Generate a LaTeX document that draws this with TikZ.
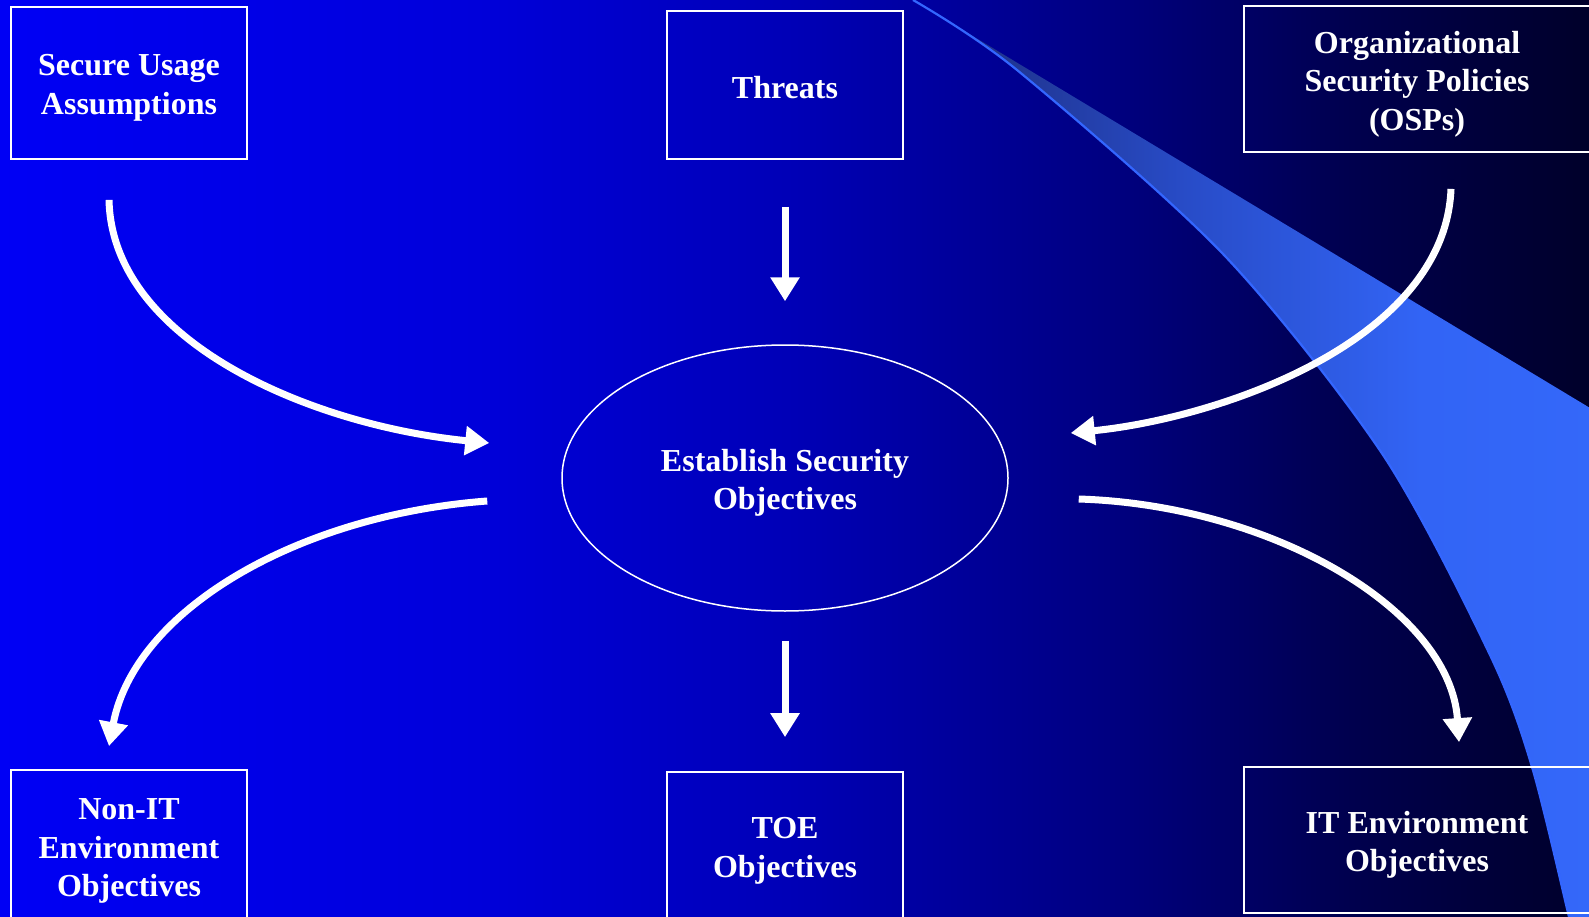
\documentclass[tikz,border=0pt]{standalone}
\usepackage{fontspec}
\setmainfont{Liberation Serif}
\usetikzlibrary{arrows.meta,shapes.geometric,calc}
\definecolor{bgA}{RGB}{0,0,245}
\definecolor{bgB}{RGB}{0,0,218}
\definecolor{bgC}{RGB}{0,0,182}
\definecolor{bgD}{RGB}{0,0,128}
\definecolor{bgE}{RGB}{0,0,78}
\definecolor{bgF}{RGB}{0,0,42}
\definecolor{swA}{RGB}{28,42,120}
\definecolor{swB}{RGB}{40,76,200}
\definecolor{swC}{RGB}{50,100,245}
\definecolor{swD}{RGB}{52,104,250}
\definecolor{swEdge}{RGB}{51,102,255}
\pgfdeclarehorizontalshading{bgshade}{100bp}{color(0bp)=(bgA); color(25bp)=(bgA); color(40bp)=(bgB); color(50bp)=(bgC); color(60bp)=(bgD); color(67.5bp)=(bgE); color(75bp)=(bgF); color(100bp)=(bgF)}
\pgfdeclarehorizontalshading{swshade}{100bp}{color(0bp)=(swA); color(25bp)=(swA); color(45bp)=(swB); color(62bp)=(swC); color(75bp)=(swD); color(100bp)=(swD)}
\tikzset{
  boxst/.style={draw=white, line width=1.8pt, inner sep=0pt},
  txtst/.style={text=white, align=center, inner sep=0pt,
    font=\bfseries\fontsize{32}{38.5}\selectfont},
  ellst/.style={ellipse, draw=white, line width=1.5pt, inner sep=0pt,
    minimum width=446pt, minimum height=266pt},
  arr/.style={draw=white, line width=7pt, -{Triangle[length=24pt,width=28pt]}},
  swedge/.style={draw=swEdge, line width=2.2pt}
}
\begin{document}
\begin{tikzpicture}[x=1pt,y=-1pt]
\useasboundingbox (0,0) rectangle (1589,917);
\clip (0,0) rectangle (1589,917);
% background
\shade[shading=bgshade] (0,0) rectangle (1589,917);
% swoosh
\shade[shading=swshade] plot[smooth] coordinates {(913,0) (1017,70) (1224,255) (1383,455) (1490,655) (1532,767) (1569,917) (1572,930)} -- (1600,930) -- (1600,414) -- cycle;
\draw[swedge] plot[smooth] coordinates {(913,0) (1017,70) (1224,255) (1383,455) (1490,655) (1532,767) (1569,917) (1572,930)};
% nodes
\node[boxst, minimum width=236pt, minimum height=152pt,
  label={[txtst, yshift=-5pt]center:{Secure Usage\\Assumptions}}] (sua) at (129,83) {};
\node[boxst, minimum width=236pt, minimum height=148pt,
  label={[txtst, yshift=-3pt]center:{Threats}}] (thr) at (785,85) {};
\node[boxst, minimum width=346pt, minimum height=146pt,
  label={[txtst, yshift=-5pt]center:{Organizational\\Security Policies\\(OSPs)}}] (osp) at (1417,79) {};
\node[ellst, label={[txtst, yshift=-5pt]center:{Establish Security\\Objectives}}] (est) at (785,478) {};
\node[boxst, minimum width=236pt, minimum height=152pt,
  label={[txtst, yshift=-5pt]center:{Non-IT\\Environment\\Objectives}}] (nit) at (129,846) {};
\node[boxst, minimum width=236pt, minimum height=148pt,
  label={[txtst, yshift=-5pt]center:{TOE\\Objectives}}] (toe) at (785,846) {};
\node[boxst, minimum width=346pt, minimum height=146pt,
  label={[txtst, yshift=-5pt]center:{IT Environment\\Objectives}}] (ite) at (1417,840) {};
% connectors
\draw[arr] ($(thr.south)+(0,47)$) -- ($(est.north)+(0,-43)$);
\draw[arr] ($(est.south)+(0,29)$) -- ($(toe.north)+(0,-34)$);
\draw[arr] ($(sua.south)+(-20,40)$) .. controls +(3,141) and +(-180,-18) .. ($(est.west)+(-72,-35)$);
\draw[arr] ($(osp.south)+(34,36)$) .. controls +(-6,152) and +(150,-15) .. ($(est.east)+(62,-45)$);
\draw[arr] ($(est.west)+(-74,23)$) .. controls +(-188,14) and +(26,-137) .. ($(nit.north)+(-20,-23)$);
\draw[arr] ($(est.east)+(70,21)$) .. controls +(192,6) and +(-9,-133) .. ($(ite.north)+(42,-24)$);
\end{tikzpicture}
\end{document}
